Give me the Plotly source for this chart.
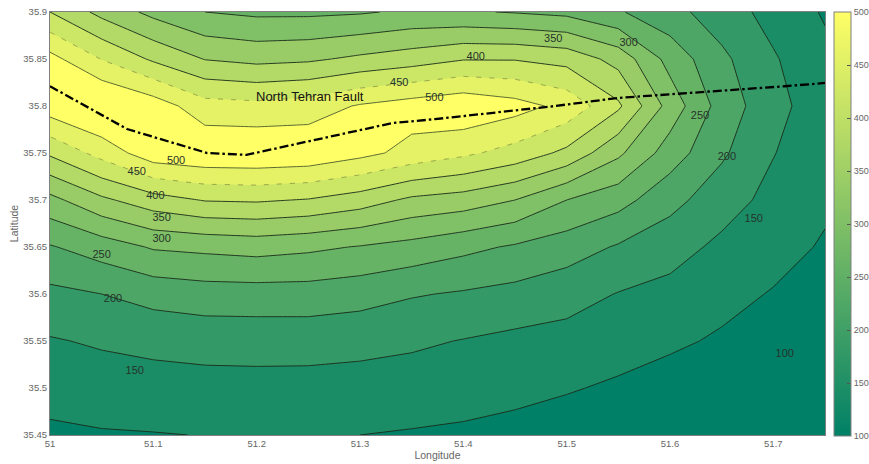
import plotly.graph_objects as go

# Ground motion surface
longitude = [51.0, 51.05, 51.1, 51.15, 51.2, 51.25, 51.3, 51.35, 51.4, 51.45, 51.5, 51.55, 51.6, 51.65, 51.7, 51.75]
latitude = [35.45, 35.5, 35.55, 35.6, 35.65, 35.7, 35.75, 35.8, 35.85, 35.9]
col_5100 = [41, 68, 96, 138, 196, 285, 408, 528, 517, 400]
col_5105 = [46, 75, 106, 150, 224, 340, 468, 563, 448, 335]
col_5110 = [48, 79, 114, 168, 255, 379, 531, 528, 392, 286]
col_5115 = [51, 82, 119, 177, 262, 403, 543, 470, 348, 250]
col_5120 = [52, 83, 120, 178, 269, 406, 545, 464, 336, 240]
col_5125 = [52, 82, 120, 178, 260, 397, 540, 474, 342, 240]
col_5130 = [50, 80, 115, 170, 247, 375, 515, 505, 360, 245]
col_5135 = [46, 76, 108, 154, 233, 340, 484, 524, 376, 258]
col_5140 = [42, 70, 98, 145, 213, 327, 460, 540, 397, 255]
col_5145 = [35, 63, 88, 135, 194, 300, 431, 520, 397, 247]
col_5150 = [25, 54, 83, 119, 174, 250, 388, 485, 383, 237]
col_5155 = [14, 43, 70, 98, 145, 219, 310, 409, 332, 205]
col_5160 = [5, 30, 58, 85, 120, 166, 226, 280, 232, 167]
col_5165 = [0, 23, 44, 64, 89, 122, 158, 179, 161, 124]
col_5170 = [0, 15, 34, 47, 67, 85, 102, 117, 105, 83]
col_5175 = [0, 10, 22, 32, 45, 58, 65, 70, 62, 45]
columns = [col_5100, col_5105, col_5110, col_5115, col_5120, col_5125, col_5130, col_5135,
           col_5140, col_5145, col_5150, col_5155, col_5160, col_5165, col_5170, col_5175]
z = [[c[j] for c in columns] for j in range(len(latitude))]

fault_lon = [51.0, 51.0745, 51.152, 51.19, 51.332, 51.3726, 51.489, 51.549, 51.711, 51.75]
fault_lat = [35.821, 35.7755, 35.75, 35.748, 35.782, 35.786, 35.8, 35.8085, 35.821, 35.8245]

label_lon = [51.122, 51.084, 51.102, 51.108, 51.108, 51.050, 51.061, 51.082, 51.711,
             51.681, 51.655, 51.629, 51.560, 51.487, 51.412, 51.338, 51.372]
label_lat = [35.7415, 35.729, 35.704, 35.681, 35.658, 35.641, 35.594, 35.518, 35.536,
             35.680, 35.745, 35.789, 35.867, 35.871, 35.852, 35.824, 35.8085]
label_val = [500, 450, 400, 350, 300, 250, 200, 150, 100, 150, 200, 250, 300, 350, 400, 450, 500]

x_ticks = [51, 51.1, 51.2, 51.3, 51.4, 51.5, 51.6, 51.7]
y_ticks = [35.45, 35.5, 35.55, 35.6, 35.65, 35.7, 35.75, 35.8, 35.85, 35.9]
bar_ticks = [100, 150, 200, 250, 300, 350, 400, 450, 500]

summer = [[0, "rgb(0,128,102)"], [1, "rgb(255,255,102)"]]
GREY = "#666666"
FONT = "Liberation Sans, Arial, sans-serif"

fig = go.Figure()
fig.add_trace(go.Contour(
    x=longitude, y=latitude, z=z, colorscale=summer, zauto=False, zmin=25, zmax=525,
    autocontour=False, contours=dict(start=50, end=500, size=50, coloring="fill", showlines=False),
    line=dict(width=0, smoothing=0), showscale=False, hoverinfo="skip"))
fig.add_trace(go.Contour(
    x=longitude, y=latitude, z=z, autocontour=False,
    contours=dict(start=50, end=400, size=50, coloring="none"),
    line=dict(color="#1a2a1a", width=0.9, smoothing=0), showscale=False, hoverinfo="skip"))
fig.add_trace(go.Contour(
    x=longitude, y=latitude, z=z, autocontour=False,
    contours=dict(start=500, end=500, size=50, coloring="none"),
    line=dict(color="#4a5a2a", width=0.9, smoothing=0), showscale=False, hoverinfo="skip"))
fig.add_trace(go.Contour(
    x=longitude, y=latitude, z=z, autocontour=False,
    contours=dict(start=450, end=450, size=50, coloring="none"),
    line=dict(color="#6a7a38", width=0.6, dash="5px,8px", smoothing=0), showscale=False, hoverinfo="skip"))
fig.add_trace(go.Scatter(
    x=fault_lon, y=fault_lat, mode="lines",
    line=dict(color="black", width=2.3, dash="9px,3px,2.5px,3px"), hoverinfo="skip", showlegend=False))
fig.add_trace(go.Scatter(
    x=label_lon, y=label_lat, mode="markers+text", text=[str(v) for v in label_val],
    textposition="middle center", textfont=dict(family=FONT, size=11, color="#26332a"),
    marker=dict(size=1, opacity=0, color=label_val, colorscale=summer, cmin=100, cmax=500, showscale=True,
                colorbar=dict(
                    x=(834 - 50) / 775, xanchor="left", y=1, yanchor="top",
                    lenmode="pixels", len=424,
                    thicknessmode="pixels", thickness=17, xpad=0, ypad=0,
                    tickmode="array", tickvals=bar_ticks, ticktext=[str(t) for t in bar_ticks],
                    ticks="inside", ticklen=4, tickcolor="#555555",
                    outlinecolor="#808080", outlinewidth=1,
                    tickfont=dict(family=FONT, size=9, color=GREY))),
    hoverinfo="skip", showlegend=False))

fig.add_annotation(x=51.2516, y=35.8096, text="North Tehran Fault", showarrow=False,
                   font=dict(family=FONT, size=13, color="#111111"))

axis = dict(showgrid=False, zeroline=False, showline=True, linecolor="#808080", linewidth=1, mirror=True,
            ticks="", tickfont=dict(family=FONT, size=9.5, color=GREY))
fig.update_layout(
    width=869, height=464, margin=dict(l=50, r=44, t=12, b=29, autoexpand=False),
    paper_bgcolor="white", plot_bgcolor="white", showlegend=False,
    xaxis=dict(axis, range=[51, 51.75], tickmode="array", tickvals=x_ticks,
               ticktext=["51", "51.1", "51.2", "51.3", "51.4", "51.5", "51.6", "51.7"],
               title=dict(text="Longitude", standoff=3, font=dict(family=FONT, size=10.5, color=GREY))),
    yaxis=dict(axis, range=[35.45, 35.9], tickmode="array", tickvals=y_ticks,
               ticktext=[str(t) for t in y_ticks],
               title=dict(text="Latitude", standoff=2, font=dict(family=FONT, size=10.5, color=GREY))),
)
fig.write_html("out.html", config={"displayModeBar": False},
               post_script="document.body.style.margin='0';document.documentElement.style.overflow='hidden';")
